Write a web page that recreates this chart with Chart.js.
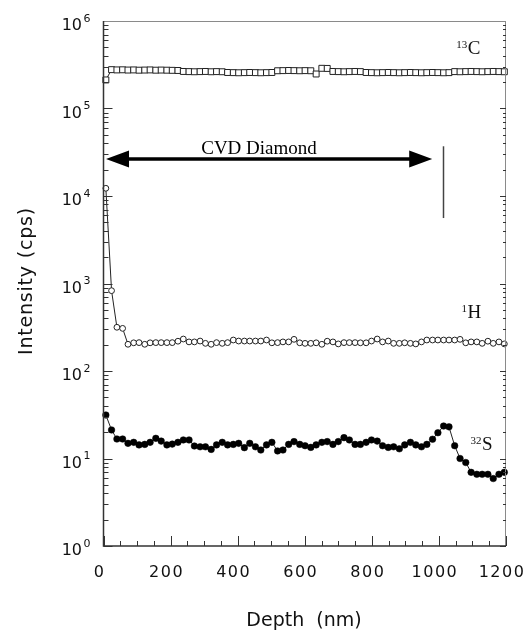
<!DOCTYPE html>
<html>
<head>
<meta charset="utf-8">
<script src="https://cdn.jsdelivr.net/npm/chart.js@4.4.1/dist/chart.umd.min.js"></script>
<style>
  html, body { margin: 0; padding: 0; background: #fff; }
</style>
</head>
<body>
<canvas id="chart" width="524" height="630"></canvas>
<script>
// depth of each sputter step (nm)
const depth = [7, 24, 40, 57, 73, 90, 106, 123, 139, 156,
    172, 189, 205, 222, 238, 255, 271, 288, 304, 321,
    337, 354, 370, 387, 403, 420, 436, 453, 469, 486,
    502, 519, 535, 552, 568, 585, 601, 618, 634, 651,
    667, 684, 700, 717, 733, 750, 766, 783, 799, 816,
    832, 849, 865, 882, 898, 915, 931, 948, 964, 981,
    997, 1014, 1030, 1047, 1063, 1080, 1096, 1113, 1129, 1146,
    1162, 1179, 1195];

// 13C (cps)
const c13 = [212000, 278000, 276000, 277000, 275000, 276000, 274000, 275000, 276000, 274000,
    275000, 274000, 273000, 272000, 265000, 264000, 263000, 264000, 265000, 263000,
    264000, 263000, 258000, 257000, 256000, 257000, 258000, 257000, 256000, 257000,
    258000, 270000, 271000, 272000, 271000, 270000, 271000, 270000, 248000, 288000,
    287000, 265000, 264000, 263000, 264000, 265000, 264000, 258000, 257000, 256000,
    257000, 258000, 257000, 256000, 257000, 258000, 257000, 256000, 257000, 258000,
    257000, 256000, 257000, 264000, 263000, 264000, 265000, 264000, 263000, 264000,
    265000, 264000, 263000];

// 1H (cps)
const h1 = [12250, 828, 316, 307, 202, 210, 211, 202, 210, 211,
    211, 211, 211, 219, 232, 215, 215, 220, 207, 202,
    211, 207, 211, 226, 220, 220, 220, 220, 220, 226,
    210, 211, 215, 215, 230, 210, 207, 207, 210, 202,
    219, 215, 204, 211, 211, 211, 210, 210, 220, 232,
    215, 220, 207, 207, 210, 207, 204, 215, 226, 226,
    226, 226, 226, 226, 230, 210, 215, 215, 207, 219,
    207, 215, 204];

// 32S (cps)
const s32 = [31.4, 21.2, 16.7, 16.7, 14.9, 15.3, 14.3, 14.5, 15.3, 17.0,
    15.8, 14.3, 14.6, 15.3, 16.3, 16.3, 13.9, 13.6, 13.6, 12.7,
    14.3, 15.3, 14.3, 14.5, 14.9, 13.3, 14.9, 13.6, 12.5, 14.3,
    15.3, 12.2, 12.5, 14.5, 15.6, 14.5, 14.0, 13.4, 14.3, 15.3,
    15.6, 14.5, 15.6, 17.3, 16.3, 14.5, 14.5, 15.3, 16.3, 15.8,
    14.0, 13.4, 13.6, 12.9, 14.3, 15.3, 14.3, 13.6, 14.5, 16.6,
    19.7, 23.5, 23.0, 14.0, 10.0, 9.0, 6.95, 6.6, 6.6, 6.6,
    5.9, 6.6, 6.95];

const xTickLabels = [0, 200, 400, 600, 800, 1000, 1200];
const xMinorStep = 50;
const yExponents = [0, 1, 2, 3, 4, 5, 6];

// where the text notes sit, in data units
const seriesLabels = [
    { sup: '13', main: 'C', depth: 1052, value: 420000 },
    { sup: '1', main: 'H', depth: 1067, value: 403 },
    { sup: '32', main: 'S', depth: 1094, value: 12.5 }
];
const arrowSpan = { from: 7.5, to: 980, value: 26500, text: 'CVD Diamond' };
const interfaceLine = { depth: 1013, low: 5600, high: 37000 };

const toPoints = (vals) => vals.map((v, i) => ({ x: depth[i], y: v }));

const decor = {
    id: 'decor',
    afterDraw(chart) {
        const { ctx, chartArea: a, scales: { x, y } } = chart;
        ctx.save();

        // frame
        ctx.strokeStyle = '#8a8a8a';
        ctx.lineWidth = 1;
        ctx.beginPath();
        ctx.moveTo(a.left, a.top + 0.5); ctx.lineTo(a.right, a.top + 0.5);
        ctx.moveTo(a.right - 0.5, a.top); ctx.lineTo(a.right - 0.5, a.bottom);
        ctx.stroke();
        ctx.strokeStyle = '#333';
        ctx.lineWidth = 1.5;
        ctx.beginPath();
        ctx.moveTo(a.left, a.top); ctx.lineTo(a.left, a.bottom);
        ctx.lineTo(a.right, a.bottom);
        ctx.stroke();

        // log ticks, left and right
        ctx.lineWidth = 1;
        ctx.beginPath();
        for (let d = 0; d < 6; d++) {
            for (let m = 1; m <= 9; m++) {
                const py = Math.round(y.getPixelForValue(m * Math.pow(10, d))) + 0.5;
                const len = m === 1 ? 9 : 5;
                ctx.moveTo(a.left, py); ctx.lineTo(a.left + len, py);
                ctx.moveTo(a.right, py); ctx.lineTo(a.right - (m === 1 ? 6 : 3), py);
            }
        }
        ctx.stroke();

        // depth ticks
        ctx.beginPath();
        for (let v = 0; v <= 1200; v += xMinorStep) {
            const px = Math.round(x.getPixelForValue(v)) + 0.5;
            const len = v % 200 === 0 ? 10 : 5;
            ctx.moveTo(px, a.bottom); ctx.lineTo(px, a.bottom - len);
        }
        ctx.stroke();

        // tick labels
        ctx.fillStyle = '#111';
        ctx.textBaseline = 'alphabetic';
        yExponents.forEach(e => {
            const py = y.getPixelForValue(Math.pow(10, e));
            ctx.font = '16px "DejaVu Sans"';
            ctx.textAlign = 'right';
            ctx.fillText('10', 82, py + 9);
            ctx.font = '11px "DejaVu Sans"';
            ctx.textAlign = 'left';
            ctx.fillText(String(e), 83.5, py + 0.5);
        });
        ctx.font = '16px "DejaVu Sans"';
        ctx.textAlign = 'center';
        ctx.letterSpacing = '1.5px';
        xTickLabels.forEach(v => {
            ctx.fillText(String(v), x.getPixelForValue(v) - 4, 577);
        });

        // axis titles
        ctx.font = '19px "DejaVu Sans"';
        ctx.letterSpacing = '0px';
        ctx.fillText('Depth  (nm)', 304, 626);
        ctx.save();
        ctx.translate(32, 281);
        ctx.rotate(-Math.PI / 2);
        ctx.letterSpacing = '0.8px';
        ctx.fillText('Intensity (cps)', 0, 0);
        ctx.restore();
        ctx.letterSpacing = '0px';

        // series names
        ctx.textAlign = 'left';
        seriesLabels.forEach(l => {
            const px = x.getPixelForValue(l.depth);
            const py = y.getPixelForValue(l.value);
            ctx.font = '11px "Liberation Serif"';
            ctx.fillText(l.sup, px, py - 6);
            const w = ctx.measureText(l.sup).width;
            ctx.font = '19px "Liberation Serif"';
            ctx.fillText(l.main, px + w + 0.5, py);
        });

        // CVD Diamond arrow
        const ax1 = x.getPixelForValue(arrowSpan.from);
        const ax2 = x.getPixelForValue(arrowSpan.to);
        const ay = y.getPixelForValue(arrowSpan.value);
        ctx.strokeStyle = '#000';
        ctx.lineWidth = 3.5;
        ctx.beginPath();
        ctx.moveTo(ax1 + 20, ay); ctx.lineTo(ax2 - 20, ay);
        ctx.stroke();
        ctx.fillStyle = '#000';
        ctx.beginPath();
        ctx.moveTo(ax1, ay); ctx.lineTo(ax1 + 23, ay - 8.5); ctx.lineTo(ax1 + 23, ay + 8.5);
        ctx.closePath();
        ctx.moveTo(ax2, ay); ctx.lineTo(ax2 - 23, ay - 8.5); ctx.lineTo(ax2 - 23, ay + 8.5);
        ctx.closePath();
        ctx.fill();
        ctx.font = '19px "Liberation Serif"';
        ctx.textAlign = 'center';
        ctx.fillText(arrowSpan.text, 259, ay - 5);

        // interface marker
        const lx = Math.round(x.getPixelForValue(interfaceLine.depth)) + 0.5;
        ctx.strokeStyle = '#444';
        ctx.lineWidth = 1.5;
        ctx.beginPath();
        ctx.moveTo(lx, y.getPixelForValue(interfaceLine.high));
        ctx.lineTo(lx, y.getPixelForValue(interfaceLine.low));
        ctx.stroke();

        ctx.restore();
    }
};

new Chart(document.getElementById('chart'), {
    type: 'line',
    data: {
        datasets: [
            {
                label: '13C',
                data: toPoints(c13),
                borderColor: '#222',
                borderWidth: 1,
                pointStyle: 'rect',
                pointRadius: 4.2,
                pointBorderWidth: 1,
                pointBackgroundColor: '#fff',
                pointBorderColor: '#222',
                clip: false
            },
            {
                label: '1H',
                data: toPoints(h1),
                borderColor: '#222',
                borderWidth: 1,
                pointStyle: 'circle',
                pointRadius: 2.9,
                pointBorderWidth: 1,
                pointBackgroundColor: '#fff',
                pointBorderColor: '#222',
                clip: false
            },
            {
                label: '32S',
                data: toPoints(s32),
                borderColor: '#222',
                borderWidth: 1,
                pointStyle: 'circle',
                pointRadius: 3.3,
                pointBorderWidth: 0.5,
                pointBackgroundColor: '#000',
                pointBorderColor: '#000',
                clip: false
            }
        ]
    },
    options: {
        responsive: false,
        animation: false,
        layout: { padding: { left: 103.5, right: 18, top: 21, bottom: 84 } },
        plugins: { legend: { display: false }, tooltip: { enabled: false } },
        scales: {
            x: { type: 'linear', min: 0, max: 1200, display: false },
            y: { type: 'logarithmic', min: 1, max: 1000000, display: false }
        }
    },
    plugins: [decor]
});
</script>
</body>
</html>
